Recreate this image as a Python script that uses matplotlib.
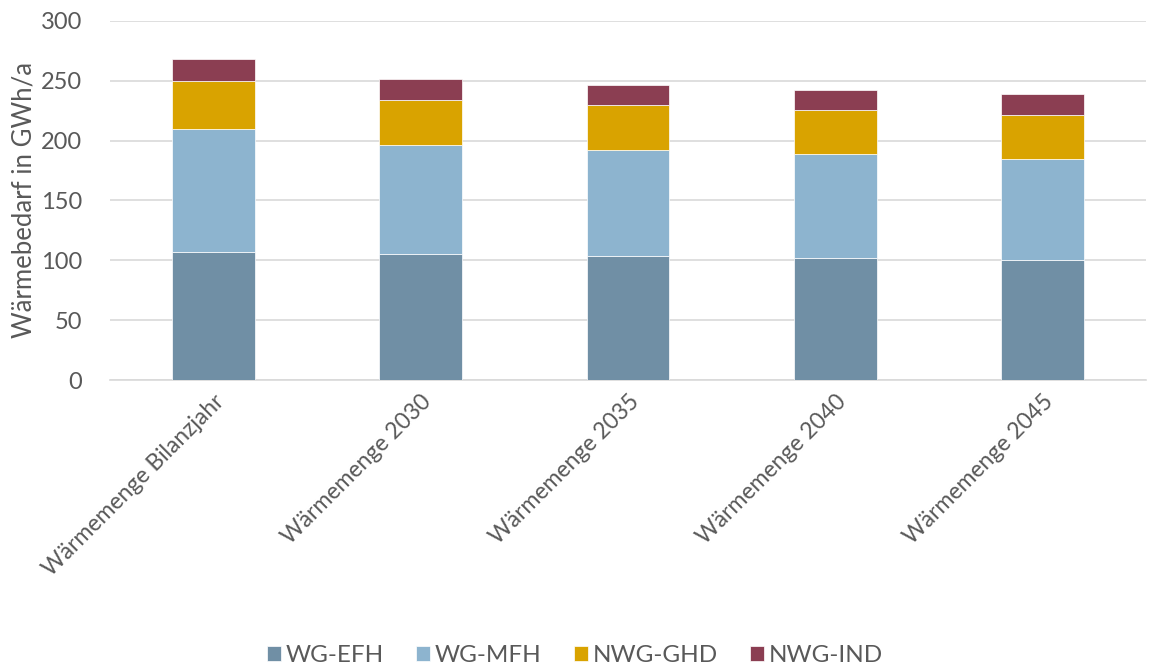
import matplotlib.pyplot as plt
import numpy as np

plt.rcParams['font.family'] = ['Lato', 'DejaVu Sans']

categories = ["Wärmemenge Bilanzjahr", "Wärmemenge 2030", "Wärmemenge 2035",
              "Wärmemenge 2040", "Wärmemenge 2045"]
wg_efh = [107.0, 105.6, 104.0, 102.3, 100.6]
wg_mfh = [102.5, 91.0, 88.6, 86.3, 84.0]
nwg_ghd = [40.1, 37.3, 37.0, 36.7, 36.8]
nwg_ind = [18.7, 17.6, 17.3, 17.3, 17.3]
series_names = ["WG-EFH", "WG-MFH", "NWG-GHD", "NWG-IND"]
y_ticks = [0, 50, 100, 150, 200, 250, 300]

colors = ['#708fa5', '#8db4cf', '#d9a300', '#8b3e52']
text_color = '#595959'

fig = plt.figure(figsize=(11.5, 6.66), dpi=100)
ax = fig.add_axes([0.0957, 0.4294, 0.9008, 0.5391])

x = np.arange(len(categories))
bottom = np.zeros(len(categories))
for name, vals, c in zip(series_names, [wg_efh, wg_mfh, nwg_ghd, nwg_ind], colors):
    ax.bar(x, vals, width=0.4, bottom=bottom, color=c, label=name,
           edgecolor='white', linewidth=0.5, zorder=3)
    bottom += np.array(vals)

ax.set_xlim(-0.5, len(categories) - 0.5)
ax.set_ylim(0, 300)
ax.set_yticks(y_ticks)
ax.yaxis.grid(True, color='#d9d9d9', linewidth=1.2, zorder=0)
ax.set_axisbelow(True)
for s in ['top', 'right', 'left']:
    ax.spines[s].set_visible(False)
ax.spines['bottom'].set_color('#d9d9d9')
ax.spines['bottom'].set_linewidth(1.2)
ax.tick_params(axis='y', length=0, labelsize=17, colors=text_color, pad=20)
ax.tick_params(axis='x', length=0, labelsize=16.5, colors=text_color, pad=8)

ax.set_xticks(x)
ax.set_xticklabels(categories, rotation=45, ha='right', rotation_mode='anchor')
ax.set_ylabel("Wärmebedarf in GWh/a", fontsize=18.5, color=text_color, labelpad=3)

fig.legend(loc='lower center', bbox_to_anchor=(0.5, -0.033), ncol=4, frameon=False,
           fontsize=17.5, handlelength=0.55, handleheight=0.55, columnspacing=1.35,
           handletextpad=0.2, labelcolor=text_color)

fig.savefig('out.png', dpi=100)
